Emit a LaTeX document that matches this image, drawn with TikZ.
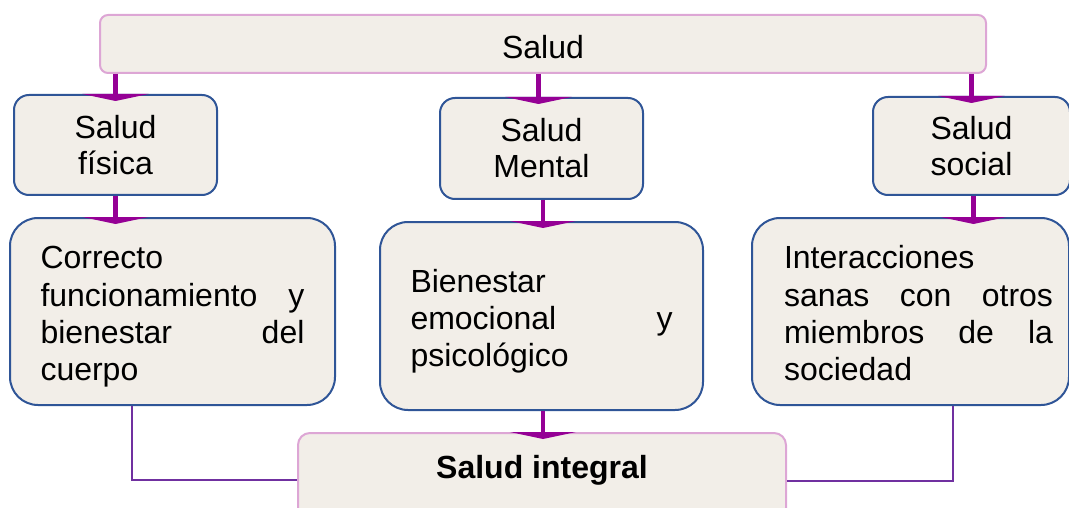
\documentclass[tikz,border=0pt]{standalone}
\usepackage{fontspec}
\setmainfont{Liberation Sans}
\usetikzlibrary{arrows.meta}
\definecolor{boxfill}{HTML}{F2EEE8}
\definecolor{boxblue}{HTML}{2F5597}
\definecolor{boxpink}{HTML}{DDA6D5}
\definecolor{arrowpurple}{HTML}{950095}
\definecolor{linepurple}{HTML}{7030A0}
\begin{document}
\begin{tikzpicture}[x=1pt,y=-1pt,
  every node/.style={font=\fontsize{32}{36}\selectfont, text=black},
  pinkbox/.style={draw=boxpink, line width=2pt, fill=boxfill, rounded corners=8pt, rectangle, inner sep=0pt},
  bluebox/.style={draw=boxblue, line width=2pt, fill=boxfill, rounded corners=15pt, rectangle, inner sep=0pt, align=center},
  bigbox/.style={draw=boxblue, line width=2pt, fill=boxfill, rounded corners=28pt, rectangle, inner sep=0pt, align=left, font=\fontsize{32}{37.3}\selectfont},
  flow/.style={draw=arrowpurple, line width=4.5pt, -{Triangle[width=66pt,length=7pt]}},
  joinline/.style={draw=linepurple, line width=1.3pt}]
\useasboundingbox (0,0) rectangle (1069,508);
\clip (0,0) rectangle (1069,508);

\node[pinkbox, minimum width=886pt, minimum height=58pt, text height=30pt, text depth=0pt] (salud) at (543,44) {Salud};

\node[bluebox, minimum width=203pt, minimum height=100pt] (fis) at (115.5,145) {Salud\\física};
\node[bluebox, minimum width=203pt, minimum height=101pt] (men) at (541.5,148.5) {Salud\\Mental};
\node[bluebox, minimum width=197pt, minimum height=98pt] (soc) at (971.5,146) {Salud\\social};

\node[bigbox, minimum width=325pt, minimum height=187pt, text width=264pt] (lowL) at (172.5,311.5)
  {\rule{0pt}{33pt}Correcto\\funcionamiento\hfill y\\bienestar\hfill del\\cuerpo};
\node[bigbox, minimum width=323pt, minimum height=188pt, text width=262pt] (lowM) at (541.5,316)
  {\rule{0pt}{34pt}Bienestar\\emocional\hfill y\\psicológico};
\node[bigbox, minimum width=317pt, minimum height=187pt, text width=285pt] (lowR) at (910.5,311.5)
  {\hspace*{16pt}\rule{0pt}{27pt}Interacciones\\\hspace*{16pt}sanas\hfill con\hfill otros\\\hspace*{16pt}miembros\hfill de\hfill la\\\hspace*{16pt}sociedad};

\node[pinkbox, rounded corners=12pt, minimum width=488pt, minimum height=87pt, text height=23pt, text depth=19pt, font=\fontsize{32}{36}\selectfont\bfseries] (integ) at (542,476.5) {Salud integral};

% arrows from Salud
\coordinate (aF) at (salud.south -| fis.north);
\coordinate (aM) at ([xshift=-3pt]salud.south -| men.north);
\coordinate (aS) at (salud.south -| soc.north);
\draw[flow] (aF) -- ([yshift=-7pt]fis.north);
\draw[flow] (aM) -- ([yshift=-7pt]aM |- men.north);
\draw[flow] (aS) -- ([yshift=-7pt]soc.north);

% arrows to lower boxes
\coordinate (bF) at (fis.south |- lowL.north);
\coordinate (bM) at ([xshift=1.5pt]men.south |- lowM.north);
\coordinate (bS) at ([xshift=2pt]soc.south |- lowR.north);
\draw[flow] (fis.south) -- ([yshift=-7pt]bF);
\draw[flow] (bM |- men.south) -- ([yshift=-7pt]bM);
\draw[flow] (bS |- soc.south) -- ([yshift=-7pt]bS);

% arrow to Salud integral
\coordinate (cM) at ([xshift=1.5pt]lowM.south);
\draw[flow] (cM) -- ([yshift=-7pt]cM |- integ.north);

% thin joins
\coordinate (jl) at (132,480);
\coordinate (jr) at (953,481);
\draw[joinline] (lowL.south -| jl) -- (jl) -- (jl -| integ.west);
\draw[joinline] (lowR.south -| jr) -- (jr) -- (jr -| integ.east);
\end{tikzpicture}
\end{document}
